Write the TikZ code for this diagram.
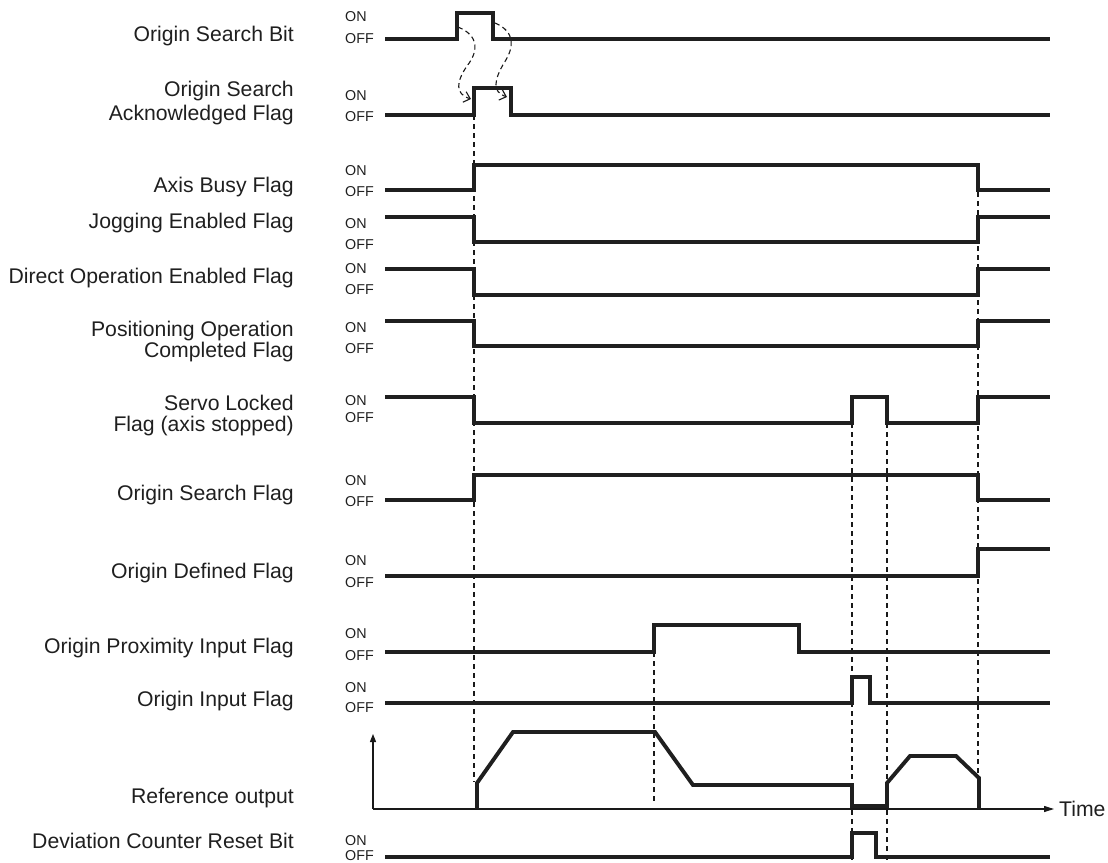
\documentclass[tikz,border=0pt]{standalone}
\usepackage{fontspec}
\setmainfont{Liberation Sans}
\usetikzlibrary{arrows.meta}
\newcommand\OnOffPair[3]{%
  \node[onoff] (#1on) at (345,#2) {ON};
  \node[onoff] (#1off) at (345,#3) {OFF};}
\begin{document}
\begin{tikzpicture}[x=1pt,y=-1pt,
  sig/.style={line width=3.9pt, line join=miter, color=black!88},
  guide/.style={line width=1.2pt, dash pattern=on 5pt off 4pt, color=black!90},
  curvy/.style={line width=1.1pt, dash pattern=on 5pt off 3.5pt, color=black!90,
     -{Straight Barb[length=6pt,width=11pt,line width=1.1pt]}},
  axisline/.style={line width=1.1pt, color=black!90},
  lbl/.style={anchor=base east, inner sep=0pt, font=\fontsize{21.2}{21}\selectfont, text=black!88},
  onoff/.style={anchor=base west, inner sep=0pt, font=\fontsize{14.3}{14}\selectfont, text=black!88},
  ]
\useasboundingbox (0,0) rectangle (1108,862);

% ---------- labels ----------
\node[lbl] (l1)  at (294,41.7)  {Origin Search Bit};
\node[lbl] (l2a) at (294,96.7)  {Origin Search};
\node[lbl] (l2b) at (294,120)   {Acknowledged Flag};
\node[lbl] (l3)  at (294,192.7) {Axis Busy Flag};
\node[lbl] (l4)  at (294,228)   {Jogging Enabled Flag};
\node[lbl] (l5)  at (294,283)   {Direct Operation Enabled Flag};
\node[lbl] (l6a) at (294,336.5) {Positioning Operation};
\node[lbl] (l6b) at (294,357.5) {Completed Flag};
\node[lbl] (l7a) at (294,410.7) {Servo Locked};
\node[lbl] (l7b) at (294,431.7) {Flag (axis stopped)};
\node[lbl] (l8)  at (294,500)   {Origin Search Flag};
\node[lbl] (l9)  at (294,578)   {Origin Defined Flag};
\node[lbl] (l10) at (294,653.3) {Origin Proximity Input Flag};
\node[lbl] (l11) at (294,706.7) {Origin Input Flag};
\node[lbl] (l12) at (294,803.3) {Reference output};
\node[lbl] (l13) at (294,848.3) {Deviation Counter Reset Bit};

% ---------- ON / OFF ----------
\OnOffPair{a}{21.7}{43}
\OnOffPair{b}{100}{121.7}
\OnOffPair{c}{175}{196}
\OnOffPair{d}{228}{249}
\OnOffPair{e}{273}{294}
\OnOffPair{f}{332}{353}
\OnOffPair{g}{405}{422}
\OnOffPair{h}{485}{506}
\OnOffPair{i}{565}{587}
\OnOffPair{j}{638}{660}
\OnOffPair{k}{692}{712}
\OnOffPair{m}{845}{860.5}

% ---------- guide coordinates ----------
\coordinate (gAtop) at (474,115);  \coordinate (gAbot) at (474,782);
\coordinate (gBtop) at (654,652);  \coordinate (gBbot) at (654,802);
\coordinate (gCtop) at (852,423);  \coordinate (gCbot) at (852,860);
\coordinate (gDtop) at (887,423);  \coordinate (gDbot) at (887,862);
\coordinate (gEtop) at (978,165);  \coordinate (gEbot) at (978,778);
\draw[guide] (gAtop) -- (gAbot);
\draw[guide] (gBtop) -- (gBbot);
\draw[guide] (gCtop) -- (gCbot);
\draw[guide] (gDtop) -- (gDbot);
\draw[guide] (gEtop) -- (gEbot);

% ---------- curved dashed arrows ----------
\coordinate (c1s) at (458,27);  \coordinate (c1e) at (471,99);
\coordinate (c2s) at (495,23);  \coordinate (c2e) at (507,97);
\draw[curvy] (c1s) .. controls (480,36) and (478,52) .. (467,66)
                   .. controls (456,82) and (455,94) .. (c1e);
\draw[curvy] (c2s) .. controls (516,32) and (514,48) .. (504,63)
                   .. controls (494,80) and (492,92) .. (c2e);

% ---------- signals ----------
\draw[sig] (385,39) -- (457,39) -- (457,13) -- (493,13) -- (493,39) -- (1050,39);
\draw[sig] (385,115) -- (474,115) -- (474,88) -- (511,88) -- (511,115) -- (1050,115);
\draw[sig] (385,190) -- (474,190) -- (474,165) -- (978,165) -- (978,190) -- (1050,190);
\draw[sig] (385,217) -- (474,217) -- (474,242) -- (978,242) -- (978,217) -- (1050,217);
\draw[sig] (385,269) -- (474,269) -- (474,295) -- (978,295) -- (978,269) -- (1050,269);
\draw[sig] (385,321) -- (474,321) -- (474,346) -- (978,346) -- (978,321) -- (1050,321);
\draw[sig] (385,397) -- (474,397) -- (474,423) -- (852,423) -- (852,397) -- (887,397)
           -- (887,423) -- (978,423) -- (978,397) -- (1050,397);
\draw[sig] (385,500) -- (474,500) -- (474,475) -- (978,475) -- (978,500) -- (1050,500);
\draw[sig] (385,576) -- (978,576) -- (978,549) -- (1050,549);
\draw[sig] (385,652) -- (654,652) -- (654,625) -- (799,625) -- (799,652) -- (1050,652);
\draw[sig] (385,703) -- (852,703) -- (852,677) -- (870,677) -- (870,703) -- (1050,703);
\draw[sig] (385,857) -- (852,857) -- (852,833) -- (876,833) -- (876,857) -- (1050,857);

% ---------- reference output axes ----------
\coordinate (origin) at (373,809);
\coordinate (ytip) at (373,734);
\coordinate (xtip) at (1054,809);
\draw[axisline,-{Triangle[length=8pt,width=6pt]}] (origin) -- (ytip);
\draw[axisline,-{Triangle[length=10pt,width=6pt]}] (origin) -- (xtip);
\node[anchor=base west, inner sep=0pt, font=\fontsize{21.2}{21}\selectfont, text=black!88] (time) at (1059,816) {Time};

% ---------- reference output profile ----------
\draw[sig] (477,809) -- (477,783) -- (513,732) -- (655,732) -- (693,785) -- (852,785)
           -- (852,806) -- (887,806) -- (887,783) -- (910,756) -- (956,756) -- (979,778) -- (979,809);
\end{tikzpicture}
\end{document}
